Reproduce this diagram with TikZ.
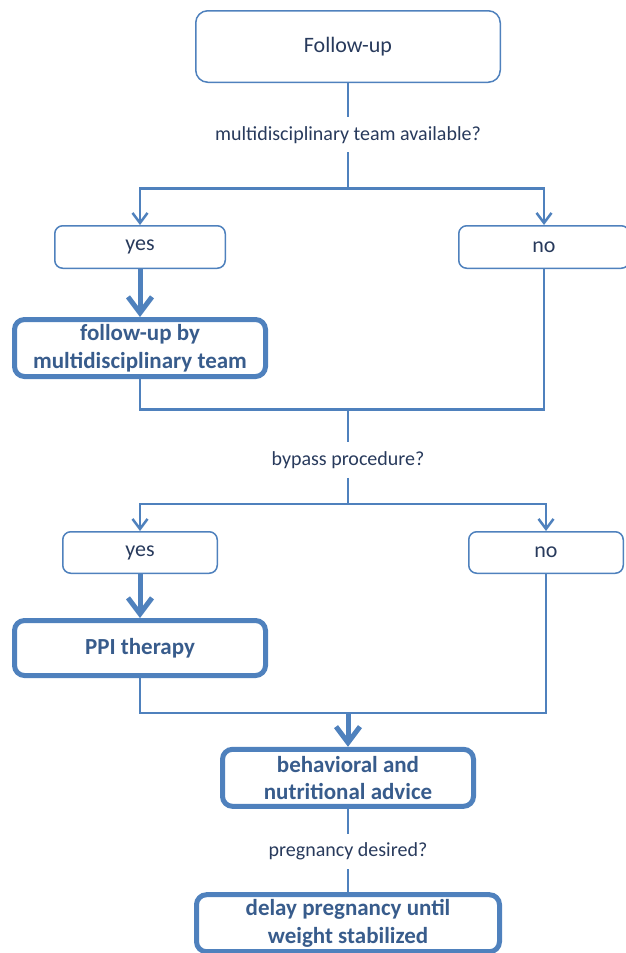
\documentclass[tikz,border=0pt]{standalone}
\usepackage{fontspec}
\setmainfont{Carlito}
\definecolor{lineblue}{RGB}{79,129,189}
\definecolor{textnavy}{RGB}{40,58,92}
\definecolor{textblue}{RGB}{56,92,140}
\tikzstyle{startbox}=[rectangle,rounded corners=12pt,draw=lineblue,line width=1.5pt,
text=textnavy,font=\fontsize{22}{26}\selectfont,minimum width=304.5pt,minimum height=71.5pt]
\tikzstyle{answer}=[rectangle,rounded corners=8pt,draw=lineblue,line width=1.5pt,
text=textnavy,font=\fontsize{22}{26}\selectfont,minimum width=170.5pt,minimum height=42.5pt]
\tikzstyle{action}=[rectangle,rounded corners=10pt,draw=lineblue,line width=5pt,
text=textblue,font=\fontsize{23}{27.5}\selectfont\bfseries,align=center,
minimum width=251pt,minimum height=57pt,inner sep=0pt]
\tikzstyle{question}=[text=textnavy,font=\fontsize{20}{24}\selectfont,minimum height=35pt,inner sep=0pt]
\tikzstyle{flow}=[draw=lineblue,line width=2.5pt]
\tikzstyle{thinarrow}=[flow,-{Straight Barb[length=10pt,width=15pt]}]
\tikzstyle{thickarrow}=[draw=lineblue,line width=5pt,-{Straight Barb[length=16pt,width=24pt]}]
\usetikzlibrary{positioning,arrows.meta}

\begin{document}
\begin{tikzpicture}[x=1pt,y=1pt]
            \useasboundingbox (0,0) rectangle (625,-953);

            % FOLLOW-UP PART

            \node[startbox] (follow) at (348,-46.5) {Follow-up};
            \node[question,below=34pt of follow] (q1) {multidisciplinary team available?};
            \coordinate[below=36pt of q1] (j1);

            \node[answer] (yes1) at (140,-247) {yes};
            \node[answer,right=232pt of yes1] (no1) {no};
            \node[action,below=48pt of yes1] (team) {follow-up by\\multidisciplinary team};

            \draw[flow] (follow) -- (q1);
            \draw[flow] (q1) -- (j1);
            \draw[thinarrow] (j1) -| (yes1);
            \draw[thinarrow] (j1) -| (no1);
            \draw[thickarrow] (yes1) -- (team);

            % BYPASS PART

            \coordinate[below=221pt of j1] (j2);
            \node[question,below=33pt of j2] (q2) {bypass procedure?};
            \coordinate[below=26pt of q2] (j3);

            \node[answer,minimum width=154.5pt,minimum height=41.5pt,below=152pt of team] (yes2) {yes};
            \node[answer,minimum width=154.5pt,minimum height=41.5pt,right=250pt of yes2] (no2) {no};
            \node[action,minimum height=55pt,below=44pt of yes2] (ppi) {PPI therapy};

            \draw[flow] (team) |- (j2);
            \draw[flow] (no1) |- (j2);
            \draw[flow] (j2) -- (q2);
            \draw[flow] (q2) -- (j3);
            \draw[thinarrow] (j3) -| (yes2);
            \draw[thinarrow] (j3) -| (no2);
            \draw[thickarrow] (yes2) -- (ppi);

            % ADVICE PART

            \coordinate[below=209pt of j3] (j4);
            \node[action,below=34pt of j4] (advice) {behavioral and\\nutritional advice};
            \node[question,below=25pt of advice] (q3) {pregnancy desired?};
            \node[action,minimum width=303pt,below=23pt of q3] (delay) {delay pregnancy until\\weight stabilized};

            \draw[flow] (ppi) |- (j4);
            \draw[flow] (no2) |- (j4);
            \draw[thickarrow] (j4) -- (advice);
            \draw[flow] (advice) -- (q3);
            \draw[flow] (q3) -- (delay);

\end{tikzpicture}
\end{document}
